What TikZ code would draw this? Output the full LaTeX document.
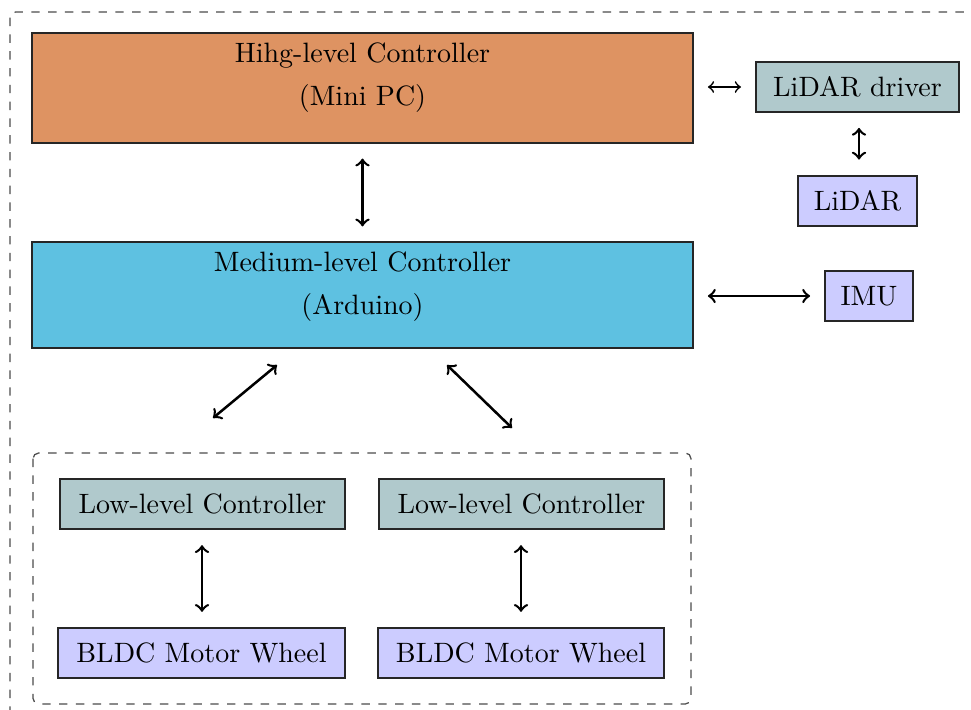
\documentclass[tikz,border=0pt]{standalone}
\begin{document}
\begin{tikzpicture}[x=0.3571pt,y=-0.3571pt,
  box/.style={draw=black!85,line width=0.7pt,inner sep=0pt,minimum height=17.9pt},
  hlfill/.style={fill={rgb,255:red,222;green,147;blue,98}},
  mlfill/.style={fill={rgb,255:red,94;green,193;blue,225}},
  tealfill/.style={fill={rgb,255:red,176;green,201;blue,204}},
  lavfill/.style={fill={rgb,255:red,204;green,204;blue,255}},
  link/.style={<->,>=to,line width=0.9pt,shorten >=5.2pt,shorten <=5.2pt},
  dbox/.style={draw=black!70,dashed,line width=0.45pt,rounded corners=2pt},
  txt/.style={anchor=base,inner sep=0pt}]
\clip (0,0) rectangle (971,709);
\fill[white] (0,0) rectangle (971,709);
% outer dashed frame
\draw[dbox] (10,12) rectangle (985,722);
% inner dashed frame
\draw[dbox] (33,453) rectangle (691,704);
% boxes
\node[box,hlfill,minimum width=236pt,minimum height=39.3pt] (hl) at (362.5,88) {};
\node[txt] (hlt1) at (362.5,62) {Hihg-level Controller};
\node[txt] (hlt2) at (362.5,105) {(Mini PC)};
\node[box,mlfill,minimum width=236pt,minimum height=37.9pt] (ml) at (362.5,295) {};
\node[txt] (mlt1) at (362.5,271) {Medium-level Controller};
\node[txt] (mlt2) at (362.5,314) {(Arduino)};
\node[box,tealfill,minimum width=72.5pt] (ldrv) at (857.5,87) {LiDAR driver};
\node[box,lavfill,minimum width=42.5pt] (lidar) at (857.5,201) {LiDAR};
\node[box,lavfill,minimum width=31.4pt] (imu) at (869,296) {IMU};
\node[box,tealfill,minimum width=101.8pt] (ll1) at (202.5,504) {Low-level Controller};
\node[box,tealfill,minimum width=101.8pt] (ll2) at (521.5,504) {Low-level Controller};
\node[box,lavfill,minimum width=102.5pt] (bl1) at (201.5,653) {BLDC Motor Wheel};
\node[box,lavfill,minimum width=102.2pt] (bl2) at (521,653) {BLDC Motor Wheel};
% helper x positions
\coordinate (xl) at (859,0);
\coordinate (xa) at (202,0);
\coordinate (xb) at (521,0);
% connectors
\draw[<->,>=to,line width=0.6pt,shorten >=5pt,shorten <=5pt] (hl.east |- ldrv.west) -- (ldrv.west);
\draw[link,shorten >=5.5pt,shorten <=5.3pt] (ldrv.south -| xl) -- (lidar.north -| xl);
\draw[link] (hl.south) -- (ml.north);
\draw[link,shorten >=5pt,shorten <=5pt] (ml.east |- imu.west) -- (imu.west);
\coordinate (d1a) at (277,365);
\coordinate (d1b) at (213,418);
\coordinate (d2a) at (447,365);
\coordinate (d2b) at (512,428);
\draw[<->,>=to,line width=0.9pt] (d1a) -- (d1b);
\draw[<->,>=to,line width=0.9pt] (d2a) -- (d2b);
\draw[link,shorten >=5.4pt,shorten <=5.4pt] (ll1.south -| xa) -- (bl1.north -| xa);
\draw[link,shorten >=5.4pt,shorten <=5.4pt] (ll2.south -| xb) -- (bl2.north -| xb);
\end{tikzpicture}
\end{document}
